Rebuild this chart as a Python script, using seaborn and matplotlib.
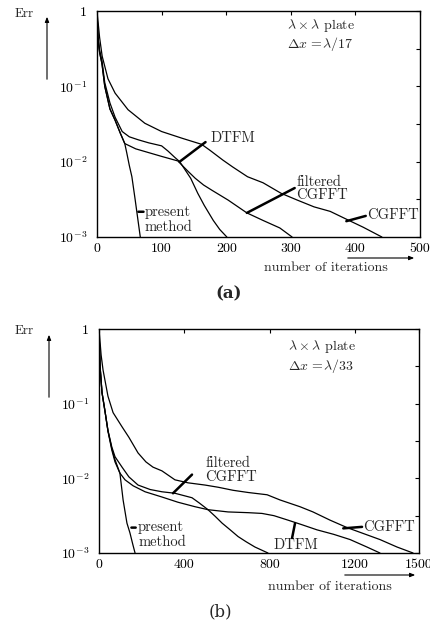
import numpy as np
import pandas as pd
import matplotlib
matplotlib.use("Agg")
import matplotlib.pyplot as plt
import seaborn as sns
from matplotlib.ticker import FixedLocator, FixedFormatter, NullFormatter

# ---------------- data (log10 of Err) ----------------
# panel (a)  dx = lambda/17
present_a_it = [0, 1.5, 4, 7.7, 12, 20, 28, 36, 43, 46, 50, 54, 59, 63, 67]
present_a_lg = [0, -0.36, -0.55, -0.7, -1.0, -1.3, -1.45, -1.62, -1.76, -1.88, -2.05, -2.2, -2.5, -2.75, -3.0]

filtered_a_it = [0, 1.5, 4, 7.7, 12, 20, 28, 36, 43, 60, 80, 100, 125, 140, 152, 165, 178, 203, 232, 257, 283, 302]
filtered_a_lg = [0, -0.36, -0.55, -0.7, -1.0, -1.3, -1.45, -1.62, -1.76, -1.83, -1.88, -1.93, -1.99, -2.12, -2.22, -2.31, -2.38, -2.51, -2.68, -2.78, -2.88, -3.0]

dtfm_a_it = [0, 1.5, 4, 7.7, 12, 20, 28, 39, 50, 64, 80, 100, 110, 120, 128, 145, 156, 166, 180, 190, 201]
dtfm_a_lg = [0, -0.33, -0.52, -0.66, -0.95, -1.22, -1.41, -1.6, -1.67, -1.71, -1.75, -1.79, -1.86, -1.94, -2.0, -2.22, -2.42, -2.58, -2.78, -2.9, -3.0]

cgfft_a_it = [0, 4, 8, 17, 28, 48, 74, 100, 132, 162, 175, 195, 210, 233, 257, 285, 310, 336, 361, 390, 412, 441]
cgfft_a_lg = [0, -0.35, -0.6, -0.9, -1.09, -1.31, -1.49, -1.6, -1.69, -1.77, -1.85, -1.98, -2.07, -2.2, -2.28, -2.42, -2.51, -2.6, -2.66, -2.78, -2.87, -3.0]

# panel (b)  dx = lambda/33
present_b_it = [0, 5, 14, 28, 42, 60, 75, 98, 113, 131, 145, 158, 169]
present_b_lg = [0, -0.5, -0.85, -1.1, -1.36, -1.6, -1.75, -1.93, -2.29, -2.6, -2.73, -2.88, -3.0]

filtered_b_it = [0, 5, 14, 28, 42, 60, 75, 108, 140, 183, 240, 295, 356, 436, 470, 511, 545, 577, 615, 652, 690, 731, 792]
filtered_b_lg = [0, -0.5, -0.85, -1.1, -1.36, -1.58, -1.71, -1.85, -1.98, -2.09, -2.15, -2.18, -2.2, -2.26, -2.33, -2.42, -2.51, -2.6, -2.69, -2.78, -2.85, -2.92, -3.0]

dtfm_b_it = [0, 5, 14, 28, 42, 60, 75, 98, 122, 160, 216, 295, 370, 450, 511, 605, 700, 764, 820, 886, 950, 1022, 1100, 1177, 1256, 1317]
dtfm_b_lg = [0, -0.5, -0.85, -1.1, -1.37, -1.62, -1.78, -1.93, -2.02, -2.1, -2.18, -2.25, -2.32, -2.38, -2.42, -2.45, -2.46, -2.47, -2.5, -2.56, -2.62, -2.69, -2.75, -2.82, -2.92, -3.0]

cgfft_b_it = [0, 10, 19, 42, 66, 108, 140, 183, 220, 253, 295, 356, 417, 497, 560, 628, 700, 788, 849, 942, 1003, 1083, 1163, 1240, 1317, 1397, 1472]
cgfft_b_lg = [0, -0.35, -0.55, -0.9, -1.12, -1.31, -1.45, -1.66, -1.78, -1.85, -1.9, -2.02, -2.06, -2.09, -2.12, -2.16, -2.19, -2.22, -2.29, -2.38, -2.45, -2.56, -2.66, -2.74, -2.82, -2.92, -3.0]

xticks_a = [0, 100, 200, 300, 400, 500]
xticks_b = [0, 400, 800, 1200, 1500]
xticklabels_b = ["0", "400", "800", "1200", "1500"]
yticks = [1, 1e-1, 1e-2, 1e-3]
yticklabels = ["1", r"$10^{-1}$", r"$10^{-2}$", r"$10^{-3}$"]

# ---------------- style ----------------
sns.set_style("white")
plt.rcParams["font.family"] = ["cmr10", "DejaVu Serif"]
plt.rcParams["mathtext.fontset"] = "cm"
plt.rcParams["axes.formatter.use_mathtext"] = True
plt.rcParams["axes.unicode_minus"] = False

W, H = 431, 628
fig = plt.figure(figsize=(W / 100, H / 100), dpi=100)
fig.patch.set_facecolor("white")


def fpos(px, py):
    return (px / W, 1 - py / H)


def make_df(series):
    frames = []
    for name, it, lg in series:
        frames.append(pd.DataFrame({"it": it, "err": 10.0 ** np.asarray(lg), "method": name}))
    return pd.concat(frames, ignore_index=True)


def draw_panel(rect, series, xmax, xt, xtl):
    ax = fig.add_axes(rect)
    df = make_df(series)
    sns.lineplot(data=df, x="it", y="err", units="method", estimator=None, sort=False,
                 color="black", lw=0.9, ax=ax, legend=False)
    ax.set_yscale("log")
    ax.set_xlim(0, xmax)
    ax.set_ylim(1e-3, 1)
    ax.set_xlabel("")
    ax.set_ylabel("")
    ax.xaxis.set_major_locator(FixedLocator(xt))
    ax.xaxis.set_major_formatter(FixedFormatter(xtl))
    ax.yaxis.set_major_locator(FixedLocator(yticks))
    ax.yaxis.set_major_formatter(FixedFormatter(yticklabels))
    ax.yaxis.set_minor_locator(FixedLocator([10 ** -0.5, 10 ** -1.5, 10 ** -2.5]))
    ax.yaxis.set_minor_formatter(NullFormatter())
    ax.tick_params(axis="both", which="both", direction="in", top=True, right=True,
                   length=3, width=0.8, colors="black", labelsize=10)
    ax.tick_params(axis="x", pad=4)
    ax.tick_params(axis="y", pad=7)
    for s in ax.spines.values():
        s.set_color("black")
        s.set_linewidth(1.0)
    ax.set_facecolor("white")
    return ax


def leader(ax, p0, p1):
    ax.annotate("", xy=p0, xytext=p1,
                arrowprops=dict(arrowstyle="-", lw=1.8, color="black", shrinkA=0, shrinkB=0))


fs = 10.5
fsp = 10

# ---------------- panel (a) ----------------
rect_a = [97 / W, 1 - 237 / H, (420 - 97) / W, (237 - 11) / H]
ax_a = draw_panel(rect_a, [
    ("present method", present_a_it, present_a_lg),
    ("filtered CGFFT", filtered_a_it, filtered_a_lg),
    ("DTFM", dtfm_a_it, dtfm_a_lg),
    ("CGFFT", cgfft_a_it, cgfft_a_lg)], 500, xticks_a, [str(v) for v in xticks_a])

ax_a.text(294, 10 ** -0.19, r"$\lambda\times\lambda$ plate", fontsize=fsp, va="center", ha="left")
ax_a.text(294, 10 ** -0.44, r"$\Delta x\,=\!\lambda/17$", fontsize=fsp, va="center", ha="left")
ax_a.text(175, 10 ** -1.69, "DTFM", fontsize=fs, va="center", ha="left")
leader(ax_a, (128, 10 ** -2.0), (168, 10 ** -1.74))
ax_a.text(309, 10 ** -2.27, "filtered", fontsize=fs, va="center", ha="left")
ax_a.text(309, 10 ** -2.45, "CGFFT", fontsize=fs, va="center", ha="left")
leader(ax_a, (232, 10 ** -2.68), (306, 10 ** -2.35))
ax_a.text(418, 10 ** -2.71, "CGFFT", fontsize=fs, va="center", ha="left")
leader(ax_a, (386, 10 ** -2.79), (416, 10 ** -2.72))
ax_a.text(74, 10 ** -2.67, "present", fontsize=fs, va="center", ha="left")
ax_a.text(74, 10 ** -2.87, "method", fontsize=fs, va="center", ha="left")
leader(ax_a, (64, 10 ** -2.665), (72, 10 ** -2.665))

# ---------------- panel (b) ----------------
rect_b = [99 / W, 1 - 553 / H, (419 - 99) / W, (553 - 329) / H]
ax_b = draw_panel(rect_b, [
    ("present method", present_b_it, present_b_lg),
    ("filtered CGFFT", filtered_b_it, filtered_b_lg),
    ("DTFM", dtfm_b_it, dtfm_b_lg),
    ("CGFFT", cgfft_b_it, cgfft_b_lg)], 1500, xticks_b, xticklabels_b)

ax_b.text(886, 10 ** -0.23, r"$\lambda\times\lambda$ plate", fontsize=fsp, va="center", ha="left")
ax_b.text(886, 10 ** -0.50, r"$\Delta x\,=\!\lambda/33$", fontsize=fsp, va="center", ha="left")
ax_b.text(497, 10 ** -1.79, "filtered", fontsize=fs, va="center", ha="left")
ax_b.text(497, 10 ** -1.98, "CGFFT", fontsize=fs, va="center", ha="left")
leader(ax_b, (347, 10 ** -2.2), (436, 10 ** -1.95))
ax_b.text(816, 10 ** -2.89, "DTFM", fontsize=fs, va="center", ha="left")
leader(ax_b, (919, 10 ** -2.6), (905, 10 ** -2.8))
ax_b.text(1238, 10 ** -2.66, "CGFFT", fontsize=fs, va="center", ha="left")
leader(ax_b, (1145, 10 ** -2.67), (1233, 10 ** -2.65))
ax_b.text(183, 10 ** -2.66, "present", fontsize=fs, va="center", ha="left")
ax_b.text(183, 10 ** -2.86, "method", fontsize=fs, va="center", ha="left")
leader(ax_b, (152, 10 ** -2.66), (172, 10 ** -2.66))

# ---------------- outer labels and arrows ----------------
def farrow(p0, p1):
    fig.add_artist(matplotlib.patches.FancyArrowPatch(
        fpos(*p0), fpos(*p1), transform=fig.transFigure, arrowstyle="-|>,head_length=3,head_width=1.2",
        mutation_scale=1, lw=0.8, color="black"))

fig.text(*fpos(15, 14), "Err", fontsize=9.5, ha="left", va="center")
farrow((47, 82), (47, 14))
fig.text(*fpos(326, 268), "number of iterations", fontsize=10, ha="center", va="center")
farrow((345, 258), (417, 258))
fig.text(*fpos(229, 294), "(a)", fontsize=12, ha="center", va="center",
         family=["DejaVu Serif"], weight="bold")

fig.text(*fpos(15, 331), "Err", fontsize=9.5, ha="left", va="center")
farrow((49, 400), (49, 332))
fig.text(*fpos(330, 587), "number of iterations", fontsize=10, ha="center", va="center")
farrow((342, 575), (418, 575))
fig.text(*fpos(220, 612), "(b)", fontsize=12, ha="center", va="center",
         family=["DejaVu Serif"])

fig.savefig("out.png", dpi=100, facecolor="white")
